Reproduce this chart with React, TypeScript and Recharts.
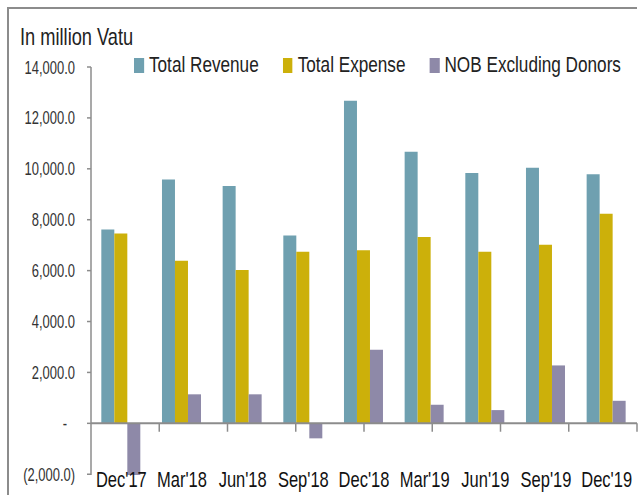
import { BarChart, Bar, XAxis, YAxis, ReferenceLine, Legend } from "recharts";

const categories = ["Dec'17", "Mar'18", "Jun'18", "Sep'18", "Dec'18", "Mar'19", "Jun'19", "Sep'19", "Dec'19"];
const totalRevenue = [7620, 9580, 9320, 7380, 12670, 10670, 9840, 10040, 9790];
const totalExpense = [7460, 6390, 6020, 6745, 6800, 7320, 6745, 7020, 8235];
const nobExcludingDonors = [-2030, 1140, 1140, -590, 2890, 730, 520, 2275, 885];
const yTicks = [-2000, 0, 2000, 4000, 6000, 8000, 10000, 12000, 14000];

const series = [
  { key: "revenue", name: "Total Revenue", color: "#6fa0b0" },
  { key: "expense", name: "Total Expense", color: "#ccb00a" },
  { key: "nob", name: "NOB Excluding Donors", color: "#8e89a8" },
];

const data = categories.map((period, i) => ({
  period,
  revenue: totalRevenue[i],
  expense: totalExpense[i],
  nob: nobExcludingDonors[i],
}));

// category boundaries for the little tick marks hanging under the zero line
const boundaries = categories.map((_, i) => i + 1);

// no narrow font installed, so squeeze Liberation Sans sideways
const FONT = '"Liberation Sans", Arial, sans-serif';
const AXIS = "#8c8c8c";

function fmtY(v: number) {
  if (v === 0) return "-";
  const s = Math.abs(v).toLocaleString("en-US", { minimumFractionDigits: 1, maximumFractionDigits: 1 });
  return v < 0 ? `(${s})` : s;
}

function PeriodTick({ x, y, payload }: any) {
  return (
    <text
      transform={`translate(${x},${y}) scale(0.75,1)`}
      dy={11.5}
      textAnchor="middle"
      fontSize={22}
      fontFamily={FONT}
      fill="#111"
    >
      {payload.value}
    </text>
  );
}

function ValueTick({ x, y, payload }: any) {
  const v = payload.value as number;
  return (
    <text
      transform={`translate(${v === 0 ? x - 8 : x},${y}) scale(0.72,1)`}
      dy={6.5}
      textAnchor="end"
      fontSize={18}
      fontFamily={FONT}
      fill="#333"
    >
      {fmtY(v)}
    </text>
  );
}

const LEGEND_SQUEEZE = 0.78;

function LegendContent() {
  return (
    <div
      style={{
        display: "flex",
        gap: 24 / LEGEND_SQUEEZE,
        fontFamily: FONT,
        fontSize: 22,
        lineHeight: "20px",
        color: "#222",
        transform: `scaleX(${LEGEND_SQUEEZE})`,
        transformOrigin: "left center",
      }}
    >
      {series.map((s) => (
        <div key={s.key} style={{ display: "flex", alignItems: "center", whiteSpace: "nowrap" }}>
          <span
            style={{
              width: 10 / LEGEND_SQUEEZE,
              height: 15,
              background: s.color,
              marginRight: 5 / LEGEND_SQUEEZE,
              display: "inline-block",
            }}
          />
          {s.name}
        </div>
      ))}
    </div>
  );
}

export default function App() {
  return (
    <div style={{ position: "absolute", left: 0, top: 0, width: 640, height: 495, background: "#fff" }}>
      <div
        style={{
          position: "absolute",
          left: 7,
          top: 7,
          width: 628,
          height: 488,
          borderTop: `2px solid ${AXIS}`,
          borderLeft: `2px solid ${AXIS}`,
        }}
      />
      <div
        style={{
          position: "absolute",
          left: 20,
          top: 25,
          fontFamily: FONT,
          fontSize: 24,
          lineHeight: "24px",
          color: "#222",
          whiteSpace: "nowrap",
          transform: "scaleX(0.76)",
          transformOrigin: "left center",
        }}
      >
        In million Vatu
      </div>
      <BarChart
        width={640}
        height={495}
        data={data}
        margin={{ top: 67, right: 3, left: 0, bottom: 0 }}
        barCategoryGap="17%"
        barGap={0}
        style={{ position: "absolute", left: 0, top: 0 }}
      >
        <XAxis
          xAxisId="cat"
          dataKey="period"
          height={20}
          axisLine={false}
          tickLine={false}
          tickSize={0}
          tickMargin={0}
          interval={0}
          tick={<PeriodTick />}
        />
        <XAxis xAxisId="edge" type="number" domain={[0, categories.length]} hide allowDataOverflow />
        <YAxis
          domain={[-2000, 14000]}
          ticks={yTicks}
          width={91}
          tickSize={4}
          tickMargin={12}
          axisLine={{ stroke: AXIS, strokeWidth: 1.5 }}
          tickLine={{ stroke: AXIS, strokeWidth: 1.5 }}
          tick={<ValueTick />}
          interval={0}
        />
        <Legend
          layout="horizontal"
          verticalAlign="middle"
          align="center"
          content={<LegendContent />}
          wrapperStyle={{ top: 55, left: 134, width: "auto" }}
        />
        {series.map((s) => (
          <Bar key={s.key} xAxisId="cat" dataKey={s.key} name={s.name} fill={s.color} isAnimationActive={false} />
        ))}
        <ReferenceLine xAxisId="cat" y={0} stroke={AXIS} strokeWidth={2} />
        {boundaries.map((b) => (
          <ReferenceLine
            key={b}
            xAxisId="edge"
            segment={[
              { x: b, y: 0 },
              { x: b, y: -330 },
            ]}
            stroke={AXIS}
            strokeWidth={1.5}
          />
        ))}
      </BarChart>
    </div>
  );
}
